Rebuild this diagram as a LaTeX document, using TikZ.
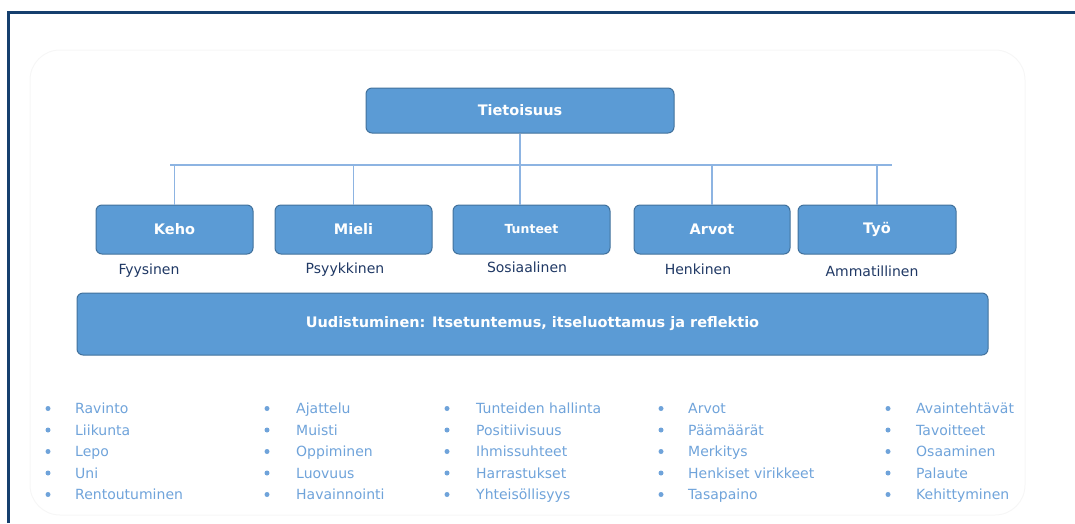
\documentclass[tikz,border=0pt]{standalone}
\usepackage{fontspec}
\setmainfont{DejaVu Sans}
\definecolor{boxblue}{HTML}{5B9BD5}
\definecolor{boxedge}{HTML}{41719C}
\definecolor{navy}{HTML}{1F3864}
\definecolor{framenavy}{HTML}{153F6E}
\definecolor{itemblue}{HTML}{6FA3DA}
\definecolor{linkblue}{HTML}{8DB4E2}
\tikzset{catbox/.style={rectangle,rounded corners=6pt,draw=boxedge,line width=1pt,fill=boxblue,
    text=white,font=\bfseries\fontsize{14.5}{17}\selectfont,inner sep=0pt},
  dimlabel/.style={text=navy,font=\fontsize{14}{17}\selectfont,inner sep=0pt,text height=10.5pt,text depth=3pt},
  itemtext/.style={anchor=base west,text=itemblue,font=\fontsize{14}{17}\selectfont,inner sep=0pt},
  dot/.style={circle,fill=itemblue,minimum size=5pt,inner sep=0pt},
  link/.style={draw=linkblue,line width=1.1pt}}

\begin{document}
\begin{tikzpicture}[x=1pt,y=-1pt]
  \path[use as bounding box] (0,0) rectangle (1075,523);
  \draw[gray!7,line width=1pt,rounded corners=30pt] (30,50) rectangle (1025,515);
  \draw[framenavy,line width=3pt] (8,523) -- (8,12) -- (1075,12);
  % top box and categories
  \node[catbox,minimum width=308pt,minimum height=45pt] (top) at (520,110.5) {Tietoisuus};
  \node[catbox,minimum width=157pt,minimum height=49pt] (keho) at (174.5,229.5) {Keho};
  \node[catbox,minimum width=157pt,minimum height=49pt] (mieli) at (353.5,229.5) {Mieli};
  \node[catbox,minimum width=157pt,minimum height=49pt,font=\bfseries\fontsize{12.5}{15}\selectfont] (tunteet) at (531.5,229.5) {Tunteet};
  \node[catbox,minimum width=156pt,minimum height=49pt] (arvot) at (712,229.5) {Arvot};
  \node[catbox,minimum width=158pt,minimum height=49pt] (tyo) at (877,229.5) {Työ};
  \node[catbox,minimum width=911pt,minimum height=62pt] (base) at (532.5,324) {Uudistuminen: Itsetuntemus, itseluottamus ja reflektio};
  % connectors
  \coordinate (busL) at (170,165);
  \coordinate (busR) at (892,165);
  \draw[link] (busL) -- (busR);
  \draw[link] (top.south) -- (top.south |- tunteet.north);
  \foreach \c in {keho,mieli,arvot,tyo}
    \draw[link] (\c.north) -- (\c.north |- busL);
  % dimension labels
  \node[dimlabel] (fyys) at (149,271) {Fyysinen};
  \node[dimlabel] (psyyk) at (345,270) {Psyykkinen};
  \node[dimlabel] (sos) at (527,269) {Sosiaalinen};
  \node[dimlabel] (henk) at (698,271) {Henkinen};
  \node[dimlabel] (amm) at (872,273) {Ammatillinen};
  % bullet lists
  \foreach \k/\bx/\tx/\items in {%
      1/48/75/{Ravinto,Liikunta,Lepo,Uni,Rentoutuminen},
      2/267/296/{Ajattelu,Muisti,Oppiminen,Luovuus,Havainnointi},
      3/447/476/{Tunteiden hallinta,Positiivisuus,Ihmissuhteet,Harrastukset,Yhteisöllisyys},
      4/661/688/{Arvot,Päämäärät,Merkitys,Henkiset virikkeet,Tasapaino},
      5/888/916/{Avaintehtävät,Tavoitteet,Osaaminen,Palaute,Kehittyminen}}{
    \foreach \t [count=\r] in \items{
      \pgfmathsetmacro{\ry}{408.5+21.5*(\r-1)}
      \node[dot] (dot-\k-\r) at (\bx,\ry) {};
      \node[itemtext] (item-\k-\r) at (\tx,\ry+5) {\t};
    }
  }
\end{tikzpicture}
\end{document}
